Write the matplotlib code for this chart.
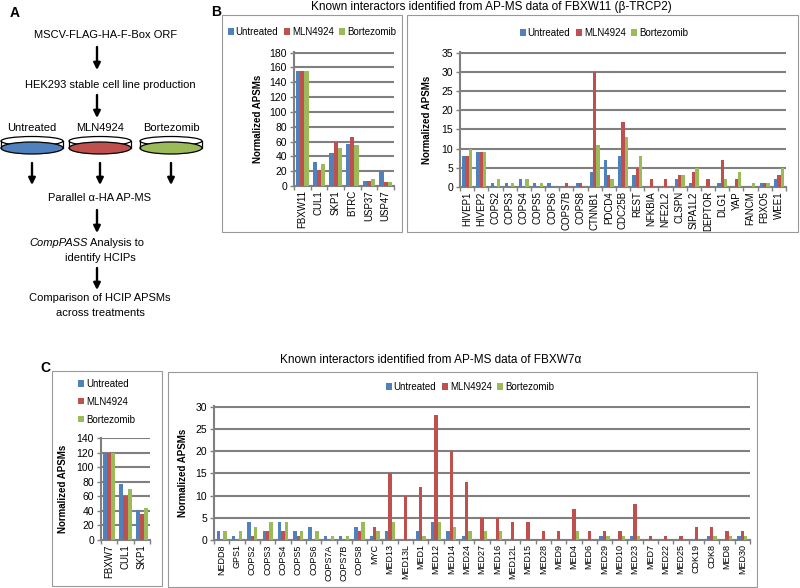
import numpy as np
import matplotlib.pyplot as plt
from matplotlib.patches import Ellipse, Rectangle

plt.rcParams['font.family'] = ['Liberation Sans', 'DejaVu Sans']

treatments = ['Untreated', 'MLN4924', 'Bortezomib']
colors = ['#4F81BD', '#C0504D', '#9BBB59']

# panel B, FBXW11 core
b_left_genes = ['FBXW11', 'CUL1', 'SKP1', 'BTRC', 'USP37', 'USP47']
b_left_untreated = [155, 32, 44, 56, 7, 20]
b_left_mln = [155, 21, 60, 66, 7, 6]
b_left_bort = [155, 30, 51, 55, 9, 5]

# panel B, other interactors
b_right_genes = ['HIVEP1', 'HIVEP2', 'COPS2', 'COPS3', 'COPS4', 'COPS5', 'COPS6',
                 'COPS7B', 'COPS8', 'CTNNB1', 'PDCD4', 'CDC25B', 'REST', 'NFKBIA',
                 'NFE2L2', 'CLSPN', 'SIPA1L2', 'DEPTOR', 'DLG1', 'YAP', 'FANCM',
                 'FBXO5', 'WEE1']
b_right_untreated = [8, 9, 1, 1, 2, 1, 1, 0, 1, 4, 7, 8, 3, 0, 0, 2, 1, 0, 1, 0, 0, 1, 2]
b_right_mln = [8, 9, 0, 0, 0, 0, 0, 1, 1, 30, 3, 17, 5, 2, 2, 3, 4, 2, 7, 2, 0, 1, 3]
b_right_bort = [10, 9, 2, 1, 2, 1, 0, 0, 0, 11, 2, 13, 8, 0, 0, 3, 5, 0, 2, 4, 1, 1, 5]

# panel C, FBXW7 core
c_left_genes = ['FBXW7', 'CUL1', 'SKP1']
c_left_untreated = [120, 77, 42]
c_left_mln = [120, 60, 36]
c_left_bort = [120, 70, 44]

# panel C, other interactors
c_right_genes = ['NEDD8', 'GPS1', 'COPS2', 'COPS3', 'COPS4', 'COPS5', 'COPS6', 'COPS7A',
                 'COPS7B', 'COPS8', 'MYC', 'MED13', 'MED13L', 'MED1', 'MED12', 'MED14',
                 'MED24', 'MED27', 'MED16', 'MED12L', 'MED15', 'MED28', 'MED9', 'MED4',
                 'MED6', 'MED29', 'MED10', 'MED23', 'MED7', 'MED22', 'MED25', 'CDK19',
                 'CDK8', 'MED8', 'MED30']
c_right_untreated = [2, 1, 4, 2, 4, 2, 3, 1, 1, 3, 1, 2, 0, 2, 4, 2, 1, 0, 0, 0,
                     0, 0, 0, 0, 0, 1, 0, 1, 0, 0, 0, 0, 1, 0, 1]
c_right_mln = [0, 0, 1, 2, 2, 1, 0, 0, 0, 2, 3, 15, 10, 12, 28, 20, 13, 5, 5, 4,
               4, 2, 2, 7, 2, 2, 2, 8, 1, 1, 1, 3, 3, 2, 2]
c_right_bort = [2, 2, 3, 4, 4, 2, 2, 1, 1, 4, 2, 4, 0, 1, 4, 3, 2, 2, 2, 0,
                0, 0, 0, 2, 0, 1, 1, 1, 0, 0, 0, 0, 1, 1, 1]

W, H = 800, 588
fig = plt.figure(figsize=(8, 5.88), dpi=100)

canvas = fig.add_axes([0, 0, 1, 1], zorder=0)
canvas.set_xlim(0, W)
canvas.set_ylim(H, 0)
canvas.axis('off')


def px_axes(x0, y0, x1, y1):
    return fig.add_axes([x0 / W, 1 - y1 / H, (x1 - x0) / W, (y1 - y0) / H], zorder=2)


def arrow(x, y0, y1):
    canvas.annotate('', xy=(x, y1), xytext=(x, y0),
                    arrowprops=dict(arrowstyle='-|>', lw=1.7, color='black',
                                    mutation_scale=10, shrinkA=0, shrinkB=0))


# ---- panel A ----
canvas.text(10, 13, 'A', fontsize=10, fontweight='bold', va='center')
canvas.text(106, 35, 'MSCV-FLAG-HA-F-Box ORF', fontsize=8, ha='center', va='center')
arrow(97, 47, 70)
canvas.text(110, 85, 'HEK293 stable cell line production', fontsize=8, ha='center', va='center')
arrow(97, 95, 118)
for cx, lab, c in zip([32, 100, 171], treatments, colors):
    canvas.text(cx, 128, lab, fontsize=8, ha='center', va='center')
    canvas.add_patch(Ellipse((cx, 141), 62, 9, fc='white', ec='black', lw=0.9))
    canvas.plot([cx - 31, cx - 31], [141, 148], color='black', lw=0.9)
    canvas.plot([cx + 31, cx + 31], [141, 148], color='black', lw=0.9)
    canvas.add_patch(Ellipse((cx, 148), 62, 12, fc=c, ec='black', lw=0.9))
    arrow(cx, 163, 185)
canvas.text(100, 198, 'Parallel \u03b1-HA AP-MS', fontsize=8, ha='center', va='center')
arrow(97, 210, 233)
canvas.text(88, 243, 'CompPASS', fontsize=8, style='italic', ha='right', va='center')
canvas.text(90, 243, 'Analysis to', fontsize=8, ha='left', va='center')
canvas.text(100, 258, 'identify HCIPs', fontsize=8, ha='center', va='center')
arrow(97, 268, 290)
canvas.text(100, 298, 'Comparison of HCIP APSMs', fontsize=8, ha='center', va='center')
canvas.text(100, 313, 'across treatments', fontsize=8, ha='center', va='center')

# ---- frames and titles ----
for x0, y0, x1, y1 in [(222, 15, 402, 232), (407, 15, 798, 232),
                       (52, 371, 162, 586), (168, 372, 757, 587)]:
    canvas.add_patch(Rectangle((x0, y0), x1 - x0, y1 - y0, fc='none', ec='#999999', lw=0.8))

canvas.text(211, 12, 'B', fontsize=10, fontweight='bold', va='center')
canvas.text(311, 7, 'Known interactors identified from AP-MS data of FBXW11 (\u03b2-TRCP2)',
            fontsize=8.5, ha='left', va='center')
canvas.text(40, 368, 'C', fontsize=10, fontweight='bold', va='center')
canvas.text(280, 360, 'Known interactors identified from AP-MS data of FBXW7\u03b1',
            fontsize=8.5, ha='left', va='center')


def bar_panel(box, genes, series, ymax, step, width, ylab_x, label_size=7):
    x0, y0, x1, y1 = box
    ax = px_axes(x0, y0, x1, y1)
    x = np.arange(len(genes))
    bars = []
    for i, (vals, c) in enumerate(zip(series, colors)):
        bars.append(ax.bar(x + (i - 1) * width, vals, width, color=c, zorder=3))
    ax.set_xlim(-0.5, len(genes) - 0.5)
    ax.set_ylim(0, ymax * 1.004)
    ax.set_yticks(np.arange(0, ymax + 1, step))
    ax.yaxis.grid(True, color='#808080', lw=1.5)
    ax.set_axisbelow(True)
    ax.set_xticks(x)
    ax.set_xticklabels(genes, rotation=90, fontsize=label_size)
    ax.set_xticks(np.arange(-0.5, len(genes)), minor=True)
    ax.tick_params(axis='x', which='major', length=0, pad=3)
    ax.tick_params(axis='x', which='minor', length=3, color='#808080', width=1)
    ax.tick_params(axis='y', length=3, color='#808080', width=1, labelsize=7.5, pad=2)
    for s in ['top', 'right']:
        ax.spines[s].set_visible(False)
    for s in ['left', 'bottom']:
        ax.spines[s].set_color('#808080')
        ax.spines[s].set_linewidth(1.5)
    ax.set_ylabel('Normalized APSMs', fontsize=7, fontweight='bold')
    ax.yaxis.set_label_coords((ylab_x - x0) / (x1 - x0), 0.5)
    ax.patch.set_visible(False)
    return ax, bars


def legend(ax, bars, cx, cy, ncol=3, loc='center', spacing=0.5):
    ax.legend(bars, treatments, loc=loc, bbox_to_anchor=(cx / W, 1 - cy / H),
              bbox_transform=fig.transFigure, ncol=ncol, frameon=False, fontsize=7,
              handlelength=0.6, handleheight=0.6, handletextpad=0.2,
              columnspacing=0.6, borderpad=0, borderaxespad=0, labelspacing=spacing)


ax, bars = bar_panel((294, 52, 394, 186), b_left_genes,
                     [b_left_untreated, b_left_mln, b_left_bort], 180, 20, 0.25, 263)
legend(ax, bars, 312, 32)

ax, bars = bar_panel((460, 52, 786, 187), b_right_genes,
                     [b_right_untreated, b_right_mln, b_right_bort], 35, 5, 0.23, 432)
legend(ax, bars, 604, 33)

ax, bars = bar_panel((101, 438, 150, 540), c_left_genes,
                     [c_left_untreated, c_left_mln, c_left_bort], 140, 20, 0.25, 68)
legend(ax, bars, 78, 379, ncol=1, loc='upper left', spacing=0.8)

ax, bars = bar_panel((214, 406, 750, 540), c_right_genes,
                     [c_right_untreated, c_right_mln, c_right_bort], 30, 5, 0.22, 188,
                     label_size=6.5)
legend(ax, bars, 470, 387)

fig.savefig('out.png', dpi=100)
